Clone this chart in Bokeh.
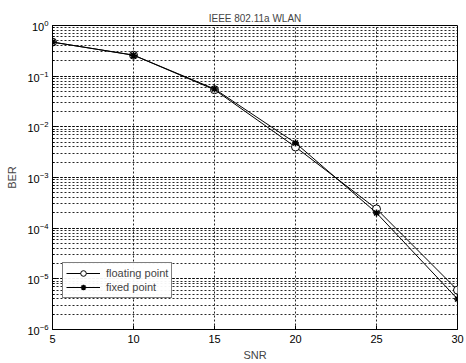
from bokeh.plotting import figure
from bokeh.models import FixedTicker, LogTicker, Legend, LegendItem, Range1d
from bokeh.embed import file_html
from bokeh.resources import INLINE

snr = [5, 10, 15, 20, 25, 30]
ber_float = [0.47, 0.26, 0.054, 0.0040, 2.4e-4, 6.0e-6]
ber_fixed = [0.47, 0.26, 0.056, 0.0048, 2.0e-4, 4.0e-6]
x_ticks = [5, 10, 15, 20, 25, 30]

FONT = "Liberation Sans"

p = figure(width=466, height=363, output_backend="svg", toolbar_location=None,
           y_axis_type="log", x_range=Range1d(5, 30), y_range=Range1d(1e-6, 1),
           min_border_left=52, min_border_right=9, min_border_top=25, min_border_bottom=32)

p.title.text = "IEEE 802.11a WLAN"
p.title.align = "center"
p.title.text_font = FONT
p.title.text_font_size = "10px"
p.title.text_font_style = "normal"
p.title.standoff = 4

p.outline_line_color = "black"
p.outline_line_width = 1

p.xaxis.ticker = FixedTicker(ticks=x_ticks)
p.yaxis.ticker = LogTicker(num_minor_ticks=10)
for ax in (p.xaxis[0], p.yaxis[0]):
    ax.major_tick_in = 4
    ax.major_tick_out = 0
    ax.minor_tick_in = 2
    ax.minor_tick_out = 0
    ax.axis_line_color = "black"
    ax.major_label_text_font = FONT
    ax.major_label_text_font_size = "11px"
    ax.major_label_text_color = "black"
    ax.axis_label_text_font = FONT
    ax.axis_label_text_font_size = "11px"
    ax.axis_label_text_font_style = "normal"
p.xaxis.axis_label = "SNR"
p.yaxis.axis_label = "BER"
p.xaxis.major_label_standoff = 5
p.xaxis.axis_label_standoff = 3
p.yaxis.major_label_standoff = 4
p.yaxis.axis_label_standoff = 6

p.xgrid.grid_line_color = "black"
p.xgrid.grid_line_dash = "2 2"
p.xgrid.grid_line_alpha = 0.85
p.ygrid.grid_line_color = "black"
p.ygrid.grid_line_dash = "2 2"
p.ygrid.grid_line_alpha = 0.85
p.ygrid.minor_grid_line_color = "black"
p.ygrid.minor_grid_line_dash = "2 2"
p.ygrid.minor_grid_line_alpha = 0.85

l1 = p.line(snr, ber_float, line_color="black", line_width=1)
m1 = p.scatter(snr, ber_float, marker="circle", size=8, line_color="black",
               fill_color="white", line_width=1)
l2 = p.line(snr, ber_fixed, line_color="black", line_width=1)
m2 = p.scatter(snr, ber_fixed, marker="asterisk", size=7, line_color="black", line_width=1.5)

legend = Legend(items=[LegendItem(label="floating point", renderers=[l1, m1]),
                       LegendItem(label="fixed point", renderers=[l2, m2])],
                location=(10, 31))
legend.label_text_font = FONT
legend.label_text_font_size = "11px"
legend.border_line_color = "black"
legend.border_line_width = 1
legend.padding = 3
legend.spacing = 0
legend.margin = 0
legend.glyph_height = 14
legend.label_height = 14
legend.glyph_width = 34
legend.label_standoff = 6
p.add_layout(legend, "center")

open("out.html", "w").write(file_html(p, INLINE))
